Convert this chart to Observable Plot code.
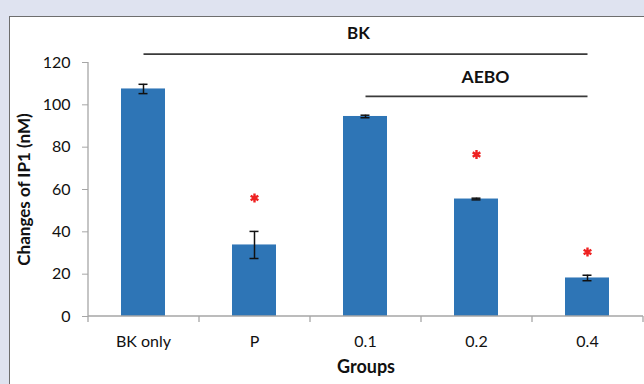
<!DOCTYPE html>
<html>
<head>
<meta charset="utf-8">
<script src="https://cdn.jsdelivr.net/npm/d3@7"></script>
<script src="https://cdn.jsdelivr.net/npm/@observablehq/plot@0.6"></script>
<style>
  html, body { margin: 0; padding: 0; }
  body { width: 644px; height: 384px; background: #dfe3f0; position: relative; overflow: hidden; font-family: Lato, sans-serif; }
  #panel { position: absolute; left: 9px; top: 16px; width: 700px; height: 400px; background: #fff; border: 1.5px solid #6e6e6e; }
  #chart { position: absolute; left: 0; top: 0; }
</style>
</head>
<body>
<div id="panel"></div>
<div id="chart"></div>
<script>
// Data
const groups = ["BK only", "P", "0.1", "0.2", "0.4"];
const means = [107.5, 33.8, 94.5, 55.5, 18.2];
const errors = [2.2, 6.4, 0.6, 0.4, 1.3];
const starGroups = ["P", "0.2", "0.4"];
const starValues = [56, 76.5, 30.5];
const yTicks = [0, 20, 40, 60, 80, 100, 120];
const bracketLabels = ["BK", "AEBO"];
const bracketFrom = ["BK only", "0.1"];
const bracketTo = ["0.4", "0.4"];
const bracketLineY = [124, 104];
const bracketTextGroup = ["0.1", "0.2"];
const bracketTextY = [133.5, 113];

const bars = groups.map((g, i) => ({group: g, mean: means[i], lo: means[i] - errors[i], hi: means[i] + errors[i]}));
const stars = starGroups.map((g, i) => ({group: g, value: starValues[i]}));
const brackets = bracketLabels.map((l, i) => ({label: l, from: bracketFrom[i], to: bracketTo[i], y: bracketLineY[i], tg: bracketTextGroup[i], ty: bracketTextY[i]}));

const axisColor = "#a6a6a6";
const blue = "#2e75b6";

// band boundary ticks and axis lines
function axisLines(index, scales, values, dims) {
  const {width, height, marginLeft, marginRight, marginBottom} = dims;
  const x0 = marginLeft, x1 = width - marginRight, yb = height - marginBottom;
  const g = d3.create("svg:g").attr("stroke", axisColor).attr("stroke-width", 1.3).attr("fill", "none");
  g.append("line").attr("x1", x0).attr("x2", x0).attr("y1", scales.y(120)).attr("y2", yb);
  g.append("line").attr("x1", x0).attr("x2", x1).attr("y1", yb).attr("y2", yb);
  const n = groups.length;
  for (let i = 0; i <= n; i++) {
    const xx = x0 + (x1 - x0) * i / n;
    g.append("line").attr("x1", xx).attr("x2", xx).attr("y1", yb).attr("y2", yb + 6);
  }
  return g.node();
}

const plot = Plot.plot({
  width: 644,
  height: 384,
  marginLeft: 88,
  marginRight: 1,
  marginTop: 62,
  marginBottom: 68,
  style: {fontFamily: "Lato, sans-serif", fontSize: "16px", background: "transparent", overflow: "visible", color: "#111"},
  x: {domain: groups, paddingInner: 0.6, paddingOuter: 0.3, label: null},
  y: {domain: [0, 120], label: null},
  marks: [
    Plot.barY(bars, {x: "group", y: "mean", fill: blue}),
    Plot.ruleX(bars, {x: "group", y1: "lo", y2: "hi", stroke: "#111", strokeWidth: 1.5}),
    Plot.tickY(bars, {x: "group", y: "lo", stroke: "#111", strokeWidth: 1.5, insetLeft: 17.5, insetRight: 17.5}),
    Plot.tickY(bars, {x: "group", y: "hi", stroke: "#111", strokeWidth: 1.5, insetLeft: 17.5, insetRight: 17.5}),
    Plot.dot(stars, {x: "group", y: "value", symbol: "asterisk", r: 4.2, stroke: "#ee2222", strokeWidth: 2.4}),
    Plot.link(brackets, {x1: "from", x2: "to", y1: "y", y2: "y", stroke: "#3a3a3a", strokeWidth: 1.8}),
    Plot.text(brackets.slice(0, 1), {x: "tg", y: "ty", text: "label", dx: -7, fontWeight: "bold", fontSize: 17, fill: "#111"}),
    Plot.text(brackets.slice(1), {x: "tg", y: "ty", text: "label", dx: 9, fontWeight: "bold", fontSize: 17.5, fill: "#111"}),
    axisLines,
    Plot.axisY({ticks: yTicks, tickSize: 6, tickPadding: 12, stroke: axisColor, fill: "#111", fontSize: 16,
      label: "Changes of IP1 (nM)", labelAnchor: "center", labelOffset: 71, labelArrow: "none"}),
    Plot.axisX({tickSize: 0, tickPadding: 19, fill: "#111", fontSize: 16,
      label: "Groups", labelAnchor: "center", labelOffset: 56, labelArrow: "none"})
  ]
});
document.getElementById("chart").appendChild(plot);
// bold, larger axis titles
plot.querySelectorAll("text").forEach(t => {
  const s = t.textContent.trim();
  if (s === "Changes of IP1 (nM)" || s === "Groups") {
    const fs = s === "Groups" ? "18px" : "17px";
    t.setAttribute("font-weight", "bold");
    t.setAttribute("font-size", fs);
    t.style.fontSize = fs;
    t.style.fontWeight = "bold";
  }
});
</script>
</body>
</html>
